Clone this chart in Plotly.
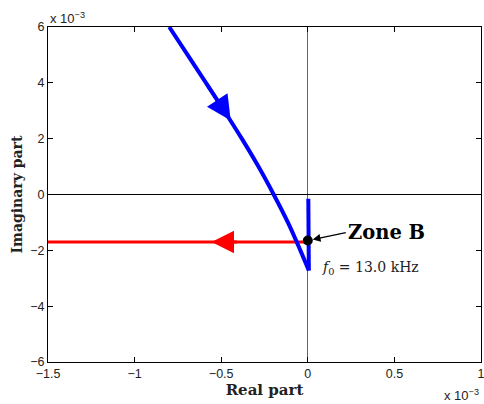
import plotly.graph_objects as go

# Values in units of 1e-3
blue_re = [-0.800, -0.694, -0.588, -0.483, -0.381, -0.285, -0.197, -0.115, -0.043, 0.006]
blue_im = [6.0, 5.0, 4.0, 3.0, 2.0, 1.0, 0.0, -1.0, -2.0, -2.72]
blue2_re = [0.006, 0.003]
blue2_im = [-2.72, -0.15]
red_re = [-1.5, 0.0]
red_im = [-1.7, -1.7]
zone_re = [0.0]
zone_im = [-1.65]
xticks = [-1.5, -1, -0.5, 0, 0.5, 1]
xticklabels = ["\u22121.5", "\u22121", "\u22120.5", "0", "0.5", "1"]
yticks = [-6, -4, -2, 0, 2, 4, 6]
yticklabels = ["\u22126", "\u22124", "\u22122", "0", "2", "4", "6"]

fig = go.Figure()
fig.add_trace(go.Scatter(x=red_re, y=red_im, mode="lines",
                         line=dict(color="#ff0000", width=3), showlegend=False))
fig.add_trace(go.Scatter(x=blue_re, y=blue_im, mode="lines", line_shape="spline",
                         line=dict(color="#0000ff", width=4), showlegend=False))
fig.add_trace(go.Scatter(x=blue2_re, y=blue2_im, mode="lines",
                         line=dict(color="#0000ff", width=4), showlegend=False))
fig.add_trace(go.Scatter(x=zone_re, y=zone_im, mode="markers",
                         marker=dict(color="black", size=10), showlegend=False))

# direction arrows
fig.add_annotation(x=-0.445, y=2.65, ax=blue_re[2], ay=blue_im[2],
                   xref="x", yref="y", axref="x", ayref="y", text="", showarrow=True,
                   arrowhead=2, arrowsize=1.4, arrowwidth=3.5, arrowcolor="#0000ff")
fig.add_annotation(x=-0.556, y=red_im[0], ax=-0.40, ay=red_im[0],
                   xref="x", yref="y", axref="x", ayref="y", text="", showarrow=True,
                   arrowhead=2, arrowsize=1.5, arrowwidth=3, arrowcolor="#ff0000")
# Zone B label
fig.add_annotation(x=zone_re[0], y=zone_im[0], ax=38, ay=-8, text="<b>Zone B</b>",
                   xanchor="left", showarrow=True, arrowhead=2, arrowsize=1.2,
                   arrowwidth=1.3, arrowcolor="black", standoff=5,
                   font=dict(family="DejaVu Serif", size=19.5, color="black"))
fig.add_annotation(x=0.07, y=-2.62, text="<i>f</i><sub>0</sub> = 13.0 kHz",
                   xanchor="left", showarrow=False,
                   font=dict(family="DejaVu Serif", size=14, color="#222"))
# exponent labels
fig.add_annotation(x=0.0, y=1.0, xref="paper", yref="paper", yanchor="bottom",
                   xanchor="left", text="x 10<sup>\u22123</sup>", showarrow=False,
                   font=dict(family="Liberation Sans", size=13, color="#222"), yshift=-1)
fig.add_annotation(x=1.0, y=0, xref="paper", yref="paper", yanchor="top",
                   xanchor="right", text="x 10<sup>\u22123</sup>", showarrow=False,
                   font=dict(family="Liberation Sans", size=13, color="#222"), yshift=-23)

axis_common = dict(showgrid=False, showline=True, linecolor="black", linewidth=1,
                   mirror="ticks", ticks="inside", ticklen=5, tickcolor="black",
                   ticklabeloverflow="allow", automargin=False,
                   tickfont=dict(family="Liberation Sans", size=12.5, color="#222"))
fig.update_xaxes(range=[-1.5, 1], tickvals=xticks, ticktext=xticklabels,
                 zeroline=True, zerolinecolor="#666", zerolinewidth=1,
                 title=dict(text="<b>Real part</b>", standoff=2,
                            font=dict(family="DejaVu Serif", size=15, color="#222")),
                 **axis_common)
fig.update_yaxes(range=[-6, 6], tickvals=yticks, ticktext=yticklabels,
                 zeroline=True, zerolinecolor="black", zerolinewidth=1,
                 title=dict(text="<b>Imaginary part</b>", standoff=4,
                            font=dict(family="DejaVu Serif", size=14, color="#222")),
                 **axis_common)
fig.update_layout(width=484, height=404, margin=dict(l=48, r=3, t=27, b=42),
                  plot_bgcolor="white", paper_bgcolor="white")
fig.write_html("out.html")
